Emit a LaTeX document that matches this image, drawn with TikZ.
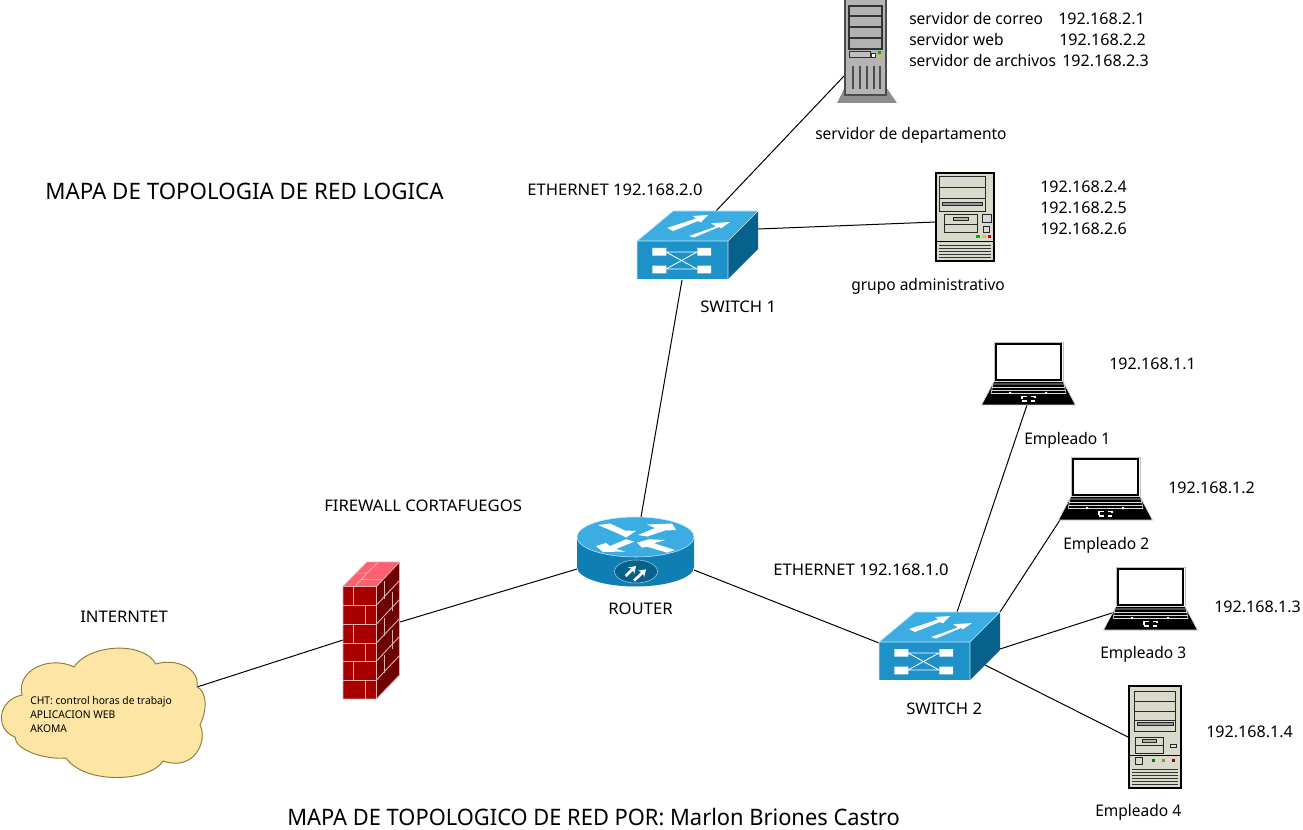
\documentclass[tikz,border=0pt]{standalone}
\usepackage{fontspec}
\setmainfont{Noto Sans}
\newfontfamily\flo[FakeStretch=0.97]{Noto Sans}
\newfontfamily\fup[FakeStretch=1.04]{Noto Sans}
\newfontfamily\fnum[FakeStretch=1.005]{Noto Sans}
\newfontfamily\fta[FakeStretch=0.985]{Noto Sans}
\newfontfamily\ftb[FakeStretch=0.965]{Noto Sans}
\usetikzlibrary{calc,arrows.meta}
\definecolor{swtop}{HTML}{3CADE2}
\definecolor{swfront}{HTML}{1E92C8}
\definecolor{swside}{HTML}{07618A}
\definecolor{rtside}{HTML}{0F7FB3}
\definecolor{rtdark}{HTML}{07618A}
\definecolor{brick}{HTML}{A80000}
\definecolor{brickside}{HTML}{6E0000}
\definecolor{bricktop}{HTML}{FF5F6E}
\definecolor{mortar}{HTML}{D8B0B0}
\definecolor{beige}{HTML}{D9D9CC}
\definecolor{towergrey}{HTML}{B4B4B4}
\definecolor{basegrey}{HTML}{8E8E8E}
\definecolor{cloudfill}{HTML}{FDE5A5}
\definecolor{cloudline}{HTML}{94782E}
\tikzset{
  x=0.75pt,y=-0.75pt,
  link/.style={draw=black,line width=0.75pt},
  lbl/.style={anchor=base west,inner sep=0pt,font=\flo\fontsize{12}{14}\selectfont},
  lblup/.style={anchor=base west,inner sep=0pt,font=\fup\fontsize{12}{14}\selectfont},
  lblnum/.style={anchor=base west,inner sep=0pt,font=\fnum\fontsize{12}{14}\selectfont},
  small/.style={anchor=base west,inner sep=0pt,font=\ftb\fontsize{8}{10}\selectfont},
  titlea/.style={anchor=base west,inner sep=0pt,font=\fta\fontsize{17}{20}\selectfont},
  titleb/.style={anchor=base west,inner sep=0pt,font=\ftb\fontsize{17}{20}\selectfont},
  box/.style={inner sep=0pt,draw=none},
  pcline/.style={draw=black!85,line width=0.7pt},
}
% switch: origin = front-left-top corner
\newcommand{\swicon}[1]{%
\begin{scope}[shift={(#1)}]
 \fill[swfront] (0,0) rectangle (91,38);
 \fill[swtop] (0,0) -- (36,-30) -- (121,-30) -- (91,0) -- cycle;
 \fill[swside] (91,0) -- (121,-30) -- (121,8) -- (91,38) -- cycle;
 \draw[white!70!swtop,line width=0.5pt] (0,38)--(0,0)--(36,-30)--(121,-30)--(91,0)--(91,38) (91,0)--(0,0);
 \fill[white] (15.3,7) rectangle (29.3,14.7) (15.3,24.7) rectangle (29.3,32.3) (60.3,7) rectangle (74,14.7) (60.3,24.7) rectangle (74,32.3);
 \draw[white,line width=0.6pt] (29,11)--(60,11) (29,28)--(60,28) (29,11)--(60,28) (29,28)--(60,11);
 \fill[white] (30,-13) -- (59,-22.5) -- (56,-25) -- (71,-26) -- (64,-18.7) -- (61,-20) -- (36,-10) -- cycle;
 \fill[white] (52,-5) -- (79,-14.5) -- (74,-17.7) -- (93,-19) -- (84,-12.7) -- (82,-14) -- (57,-3.5) -- cycle;
\end{scope}}
% laptop: origin = screen top-left
\newcommand{\lapicon}[1]{%
\begin{scope}[shift={(#1)}]
 \fill[white] (0,0) rectangle (67,37);
 \draw[black!25,line width=0.5pt] (-1,-1) rectangle (68,38);
 \draw[black,line width=1.6pt] (0.7,0.7) rectangle (66.3,37);
 \fill[black,draw=black!15,line width=0.5pt] (-1,38.5) -- (68,38.5) -- (80.5,62) -- (-13.5,62) -- cycle;
 \draw[white!85!black,line width=0.5pt] (-2,41)--(69,41) (-3,44.5)--(70,44.5) (-3.5,47.5)--(70.5,47.5) (-4,50.5)--(71,50.5) (-4,50.5)--(-2,41) (71,50.5)--(69,41);
 \fill[white] (14,49) rectangle (16,51) (50,49) rectangle (52,51);
 \draw[white,line width=0.8pt] (27,56.5)--(27,53.5)--(32,53.5) (35.5,53.5)--(40,53.5)--(40,55) (27,58)--(32,58) (35.5,58)--(40,58);
\end{scope}}
\begin{document}
\begin{tikzpicture}
\useasboundingbox (0,0) rectangle (1303,830);
\fill[white] (0,0) rectangle (1303,830);
% device boxes
\node[box,minimum width=45pt,minimum height=78pt] (srv) at (867,52) {};
\node[box,minimum width=68pt,minimum height=52pt] (swa) at (697,245) {};
\node[box,minimum width=45pt,minimum height=66pt] (adm) at (965,217) {};
\node[box,minimum width=88pt,minimum height=52pt] (rt) at (635,552) {};
\node[box,minimum width=43pt,minimum height=103pt] (fw) at (371,630) {};
\node[box,minimum width=155pt,minimum height=98pt] (cl) at (103,713) {};
\node[box,minimum width=68pt,minimum height=52pt] (swb) at (939,646) {};
\node[box,minimum width=70pt,minimum height=47pt] (la) at (1028,374) {};
\node[box,minimum width=70pt,minimum height=47pt] (lb) at (1104,489) {};
\node[box,minimum width=70pt,minimum height=47pt] (lc) at (1149,599) {};
\node[box,minimum width=39pt,minimum height=77pt] (pc) at (1155,737) {};
% connectors (run to points inside the icons, drawn first)
\draw[link] ($(srv.center)+(-22,23)$) -- ($(swa.center)+(19,-34)$);
\draw[link] ($(swa.center)+(61,-16)$) -- ($(adm.center)+(-29,5)$);
\draw[link] ($(swa.center)+(-15,35)$) -- ($(rt.center)+(6,-35)$);
\draw[link] ($(rt.center)+(-58,17)$) -- ($(fw.center)+(29,-8)$);
\draw[link] ($(fw.center)+(-28,10)$) -- ($(cl.center)+(94,-26)$);
\draw[link] ($(rt.center)+(59,18)$) -- ($(swb.center)+(-60,-3)$);
\draw[link] ($(swb.center)+(18,-34)$) -- ($(la.center)+(-1,31)$);
\draw[link] ($(swb.center)+(61,-34)$) -- ($(lb.center)+(-44,31)$);
\draw[link] ($(swb.center)+(61,3)$) -- ($(lc.center)+(-34,13)$);
\draw[link] ($(swb.center)+(46,19)$) -- ($(pc.center)+(-25,1)$);
% server
\fill[basegrey] (845,87) -- (837,103) -- (897,103) -- (886,87) -- cycle;
\fill[towergrey] (845,0) rectangle (886,95);
\draw[black!70,line width=0.8pt] (845,0) -- (845,95) -- (886,95) -- (886,0);
\fill[black!30] (849,6) rectangle (882,49);
\draw[black!80,line width=0.8pt] (849,6) rectangle (882,49) (849,16)--(882,16) (849,27)--(882,27) (849,38)--(882,38);
\draw[black!80,line width=0.6pt,fill=black!25] (849,51) rectangle (870,57);
\draw[black!80,line width=0.5pt,fill=white] (871,53) rectangle (875,57);
\fill[green!70!black] (878,51) rectangle (881,54);
\fill[yellow!80!black] (878,55) rectangle (881,58);
\foreach \x in {853,860,867,874,880} \draw[black!70,line width=0.8pt] (\x,66)--(\x,89);
% admin pc
\fill[beige] (936,173) rectangle (994,261);
\draw[black,line width=0.9pt] (936,173) rectangle (994,261);
\draw[pcline] (939,176) rectangle (985,211) (939,187)--(985,187) (939,198)--(985,198);
\draw[pcline,fill=black!40] (942,202) rectangle (982,205);
\draw[pcline] (944,214) rectangle (977,232) (944,224)--(977,224);
\draw[pcline,fill=black!30] (953,217) rectangle (968,220);
\draw[pcline,fill=black!15] (982,214) rectangle (991,222) (983,226) rectangle (989,232);
\fill[green!70!black] (976,235) rectangle (980,238);
\fill[yellow!80!black] (982,235) rectangle (986,238);
\fill[red!80!black] (988,235) rectangle (991,238);
\draw[black] (936,241)--(994,241);
\foreach \y in {245,248,251,254,257} \draw[black!80,line width=0.6pt] (939,\y)--(991,\y);
% pc empleado 4
\fill[beige] (1129,686) rectangle (1181,788);
\draw[black,line width=0.9pt] (1129,686) rectangle (1181,788);
\draw[pcline] (1134,691) rectangle (1175,731) (1134,701)--(1175,701) (1134,711)--(1175,711) (1134,720)--(1175,720);
\draw[pcline,fill=black!40] (1137,722) rectangle (1173,725);
\draw[pcline] (1135,737) rectangle (1163,753) (1135,745)--(1163,745);
\draw[pcline,fill=black!30] (1142,739) rectangle (1156,742);
\draw[pcline,fill=black!10] (1170,744) rectangle (1176,747);
\draw[black] (1129,755)--(1181,755);
\draw[pcline] (1135,757) rectangle (1142,764);
\fill[green!50!black] (1152,759) rectangle (1155,762);
\fill[yellow!50!black] (1162,759) rectangle (1165,762);
\fill[red!60!black] (1172,759) rectangle (1175,762);
\foreach \y in {769,772,775,778,781,784} \draw[black!80,line width=0.6pt] (1132,\y)--(1178,\y);
% switches
\swicon{637,241}
\swicon{879,642}
% router
\fill[rtside] (577,537) -- (577,567) arc[start angle=180,end angle=360,x radius=58.5,y radius=-19.5] -- (694,537) -- cycle;
\fill[swtop] (635.5,537) ellipse [x radius=58.5,y radius=20];
\draw[white!70!swtop,line width=0.4pt] (635.5,537) ellipse [x radius=58.5,y radius=20];
\fill[rtdark] (636,571.5) ellipse [x radius=21.5,y radius=11.5];
\draw[white!60!rtside,line width=0.4pt] (636,571.5) ellipse [x radius=21.5,y radius=11.5];
\fill[white] (598,525) -- (610,523.5) -- (625,530.5) -- (636,531) -- (626,537.5) -- (617,533) -- cycle;
\fill[white] (638,535) -- (655,528) -- (647,524.5) -- (672,523.5) -- (676,530) -- (665,530.5) -- (647,536.5) -- cycle;
\fill[white] (596,546) -- (603,552) -- (625,551.5) -- (616,549) -- (634,541.7) -- (626,539.3) -- (610,546) -- (606,543) -- cycle;
\fill[white] (637,542.7) -- (649,539.3) -- (665,540) -- (654,543.3) -- (675,550) -- (667,552.7) -- (647,546.7) -- (642,547.7) -- cycle;
\draw[white,line width=2pt,-{Stealth[length=5pt,width=6.5pt]}] (625.7,576) -- (636,566);
\draw[white,line width=2pt,-{Stealth[length=5pt,width=6.5pt]}] (634,580.7) -- (646,569.3);
% firewall
\fill[brick] (343,586.5) rectangle (376.5,699);
\fill[bricktop] (343,586.5) -- (367,562) -- (399.5,562) -- (376.5,586.5) -- cycle;
\fill[brickside] (376.5,586.5) -- (399.5,562) -- (399.5,675) -- (376.5,699) -- cycle;
\draw[mortar,line width=0.7pt] (343,699)--(343,586.5)--(367,562)--(399.5,562)--(399.5,675)--(376.5,699)--(343,699) (343,586.5)--(376.5,586.5)--(399.5,562) (376.5,586.5)--(376.5,699);
\foreach \y in {605,624,643,661,680} \draw[mortar,line width=0.7pt] (343,\y)--(376.5,\y);
\foreach \y in {586.5,624,661} \draw[mortar,line width=0.7pt] (353.5,\y)--(353.5,\y+18.5);
\foreach \y in {605,643,680} \draw[mortar,line width=0.7pt] (365,\y)--(365,\y+19);
\foreach \y in {605,624,643,661,680} \draw[mortar,line width=0.7pt] (376.5,\y)--(399.5,\y-24.5);
\foreach \y in {586.5,624,661} \draw[mortar,line width=0.7pt] (384,\y-6)--(384,\y+12);
\foreach \y in {605,643} \draw[mortar,line width=0.7pt] (392,\y-13)--(392,\y+6);
\draw[mortar,line width=0.7pt] (355,586.5)--(367,573)--(378,562.5) (355,573)--(367,573) (360,579.5)--(383,579.5);
% cloud
\draw[cloudline,fill=cloudfill,line width=0.7pt]
 (22,695) .. controls (16,670) and (50,655) .. (74,667)
 .. controls (88,645) and (142,640) .. (156,664)
 .. controls (176,658) and (200,668) .. (197,687)
 .. controls (205,690) and (209,706) .. (200,725)
 .. controls (208,740) and (195,772) .. (163,761)
 .. controls (150,782) and (85,785) .. (66,758)
 .. controls (45,760) and (15,750) .. (15,737)
 .. controls (-5,730) and (-3,700) .. (22,695) -- cycle;
% laptops
\lapicon{995,343}
\lapicon{1072,458}
\lapicon{1117,568}
% labels
\node[titlea] (t1) at (45,200) {MAPA DE TOPOLOGIA DE RED LOGICA};
\node[titleb] (t2) at (287,825) {MAPA DE TOPOLOGICO DE RED POR: Marlon Briones Castro};
\node[lbl] (l1) at (909,25) {servidor de correo};
\node[lblnum] (l2) at (1058,25) {192.168.2.1};
\node[lbl] (l3) at (909,46) {servidor web};
\node[lblnum] (l4) at (1059,46) {192.168.2.2};
\node[lbl] (l5) at (909,67) {servidor de archivos};
\node[lblnum] (l6) at (1062,67) {192.168.2.3};
\node[lbl] (l7) at (815,140) {servidor de departamento};
\node[lblup] (l8) at (527,196) {ETHERNET 192.168.2.0};
\node[lblnum] (l9) at (1040,193) {192.168.2.4};
\node[lblnum] (l10) at (1040,214) {192.168.2.5};
\node[lblnum] (l11) at (1040,235) {192.168.2.6};
\node[lbl] (l12) at (851,291) {grupo administrativo};
\node[lblup] (l13) at (700,313) {SWITCH 1};
\node[lblnum] (l14) at (1109,370) {192.168.1.1};
\node[lbl] (l15) at (1024,445) {Empleado 1};
\node[lblnum] (l16) at (1168,493) {192.168.1.2};
\node[lbl] (l17) at (1063,549) {Empleado 2};
\node[lblup] (l18) at (324,511) {FIREWALL CORTAFUEGOS};
\node[lblup] (l19) at (773,575) {ETHERNET 192.168.1.0};
\node[lblnum] (l20) at (1214,612) {192.168.1.3};
\node[lblup] (l21) at (608,614) {ROUTER};
\node[lblup] (l22) at (80,622) {INTERNTET};
\node[lbl] (l23) at (1100,658) {Empleado 3};
\node[lblup] (l24) at (906,714) {SWITCH 2};
\node[lblnum] (l25) at (1206,737) {192.168.1.4};
\node[lbl] (l26) at (1095,816) {Empleado 4};
\node[small] (c1) at (30,704) {CHT: control horas de trabajo};
\node[small] (c2) at (30,718) {APLICACION WEB};
\node[small] (c3) at (30,732) {AKOMA};
\end{tikzpicture}
\end{document}
